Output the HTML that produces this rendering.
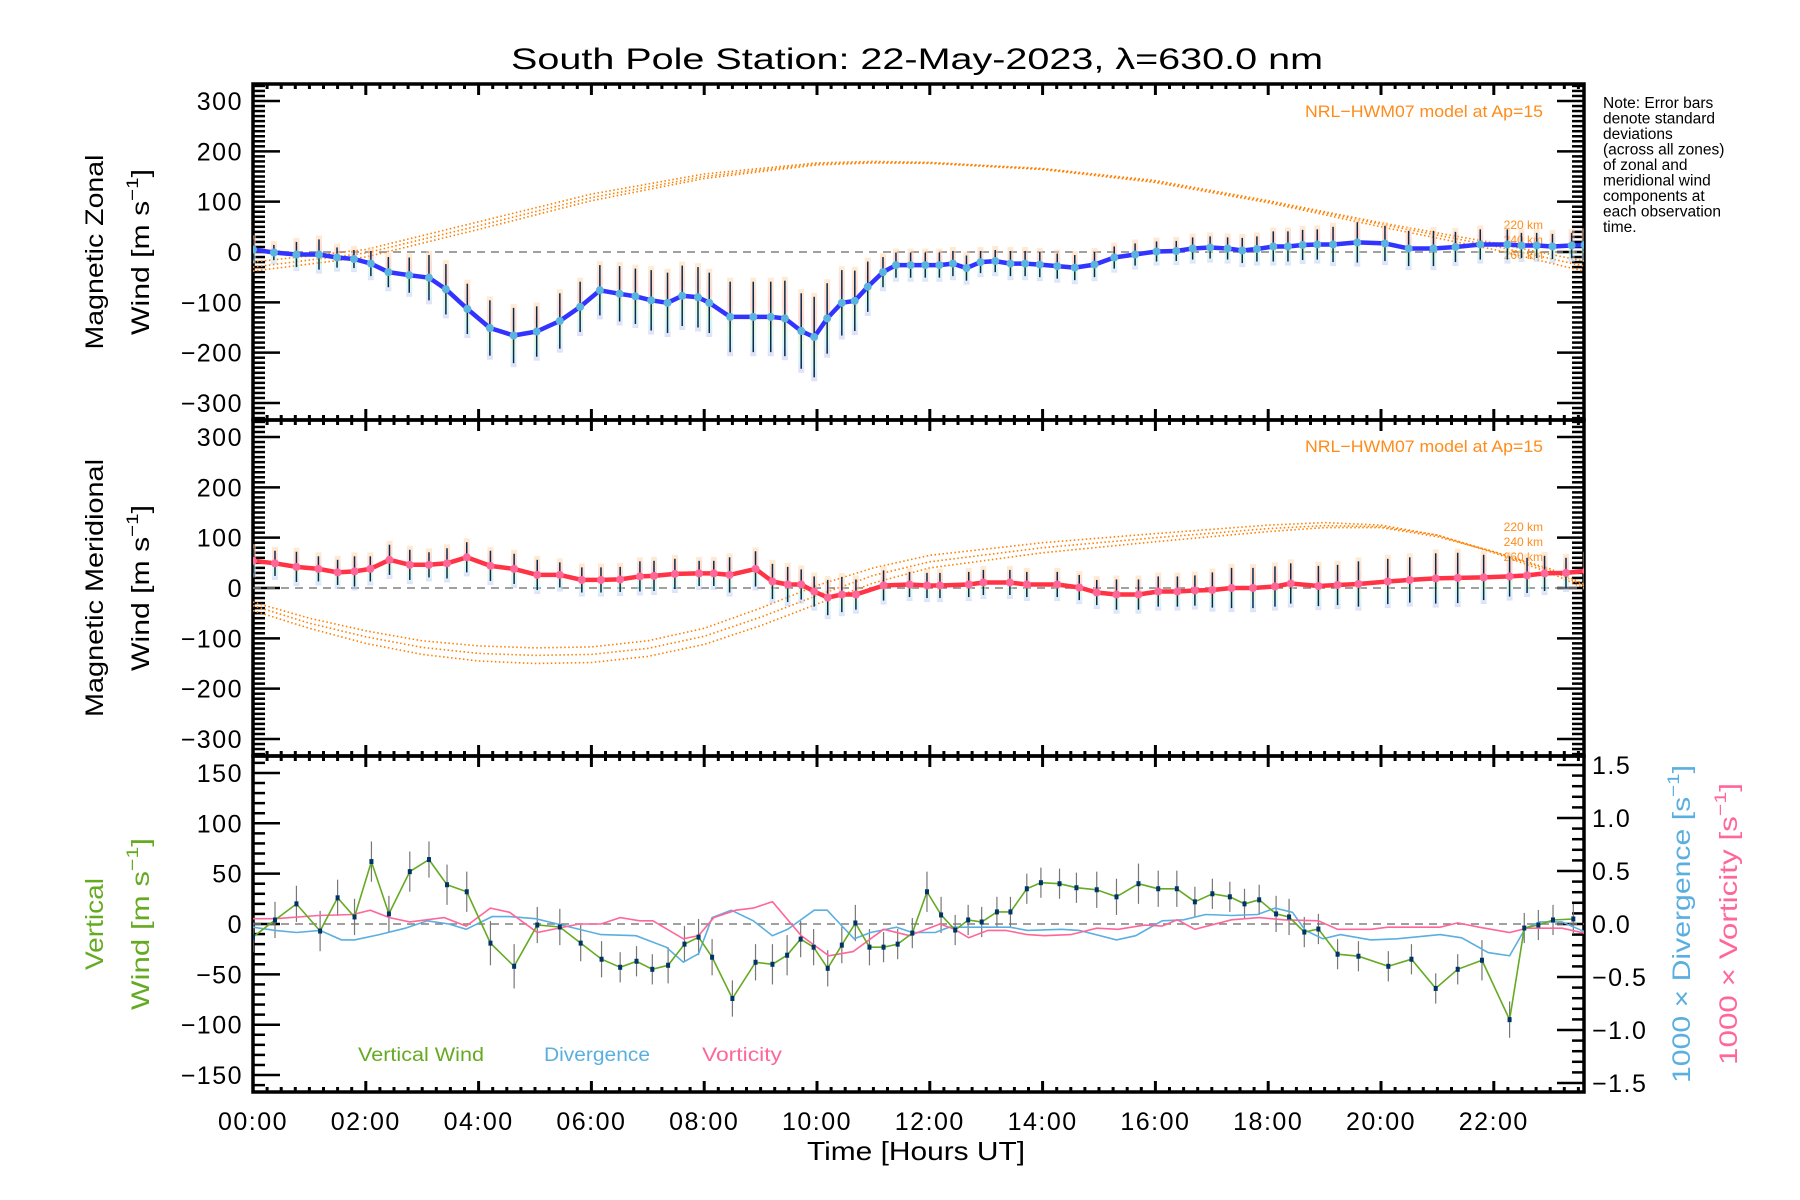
<!DOCTYPE html>
<html><head><meta charset="utf-8"><style>
html,body{margin:0;padding:0;background:#fff}
svg{display:block;font-family:"Liberation Sans",sans-serif}
</style></head><body>
<svg id="chart" width="1800" height="1200" viewBox="0 0 1800 1200" xmlns="http://www.w3.org/2000/svg">
<defs>
<linearGradient id="eg" x1="0" y1="0" x2="0" y2="1">
<stop offset="0" stop-color="#ffd9a8"/><stop offset="0.35" stop-color="#ffb3a8"/><stop offset="0.65" stop-color="#c8f5c8"/><stop offset="0.85" stop-color="#b8e8f5"/><stop offset="1" stop-color="#c0c0f0"/>
</linearGradient>
<clipPath id="c1"><rect x="253" y="84" width="1331" height="336"/></clipPath>
<clipPath id="c2"><rect x="253" y="420" width="1331" height="336"/></clipPath>
<clipPath id="c3"><rect x="253" y="756" width="1331" height="336"/></clipPath>
</defs>
<g id="root"></g>
</svg>
<script>
// ---------- data ----------
const zonalHours = [0,0.37,0.77,1.17,1.49,1.79,2.09,2.40,2.77,3.12,3.42,3.80,4.20,4.62,5.03,5.44,5.80,6.15,6.50,6.78,7.06,7.35,7.61,7.89,8.09,8.46,8.87,9.18,9.43,9.72,9.95,10.18,10.44,10.67,10.90,11.17,11.40,11.66,11.92,12.17,12.41,12.65,12.90,13.16,13.43,13.69,13.95,14.26,14.57,14.92,15.27,15.64,16.02,16.37,16.66,16.97,17.28,17.54,17.80,18.09,18.35,18.61,18.87,19.15,19.58,20.07,20.49,20.93,21.32,21.76,22.24,22.49,22.76,23.04,23.38,23.61];
const zonalWind = [5,-1,-5,-5,-11,-14,-23,-40,-46,-51,-74,-113,-151,-166,-158,-137,-109,-76,-83,-88,-96,-101,-87,-90,-101,-129,-129,-129,-132,-157,-169,-132,-101,-97,-69,-40,-26,-26,-26,-26,-23,-32,-20,-18,-23,-23,-25,-28,-31,-25,-11,-5,1,2,7,9,7,3,6,11,11,14,15,15,19,17,7,7,10,15,15,13,13,11,13,14];
const zonalErr = [20,15,25,30,20,18,25,30,35,45,50,50,55,55,50,55,50,50,55,55,60,60,60,60,60,70,70,70,75,75,80,70,65,60,50,30,25,25,25,25,25,25,22,22,25,25,25,25,25,25,22,22,20,20,22,22,22,25,25,30,30,30,30,35,40,35,35,35,30,30,30,25,25,25,25,25];
const merHours = [0,0.39,0.77,1.16,1.50,1.80,2.08,2.42,2.78,3.12,3.44,3.79,4.21,4.63,5.04,5.44,5.83,6.17,6.51,6.86,7.11,7.48,7.91,8.17,8.45,8.91,9.21,9.48,9.72,9.95,10.19,10.44,10.69,11.18,11.64,11.95,12.18,12.69,12.95,13.42,13.72,14.26,14.65,14.96,15.31,15.70,16.05,16.39,16.70,17.01,17.35,17.73,18.12,18.40,18.89,19.23,19.60,20.12,20.51,20.97,21.36,21.82,22.28,22.59,22.90,23.28,23.64];
const merWind = [54,49,42,38,31,33,38,56,46,46,49,61,44,38,26,26,16,16,17,23,24,28,29,29,26,38,13,7,7,-7,-19,-13,-13,5,7,5,5,7,11,11,7,7,1,-9,-13,-13,-7,-7,-5,-4,0,0,3,9,4,6,8,13,16,19,20,21,23,25,29,30,34];
const merErr = [25,25,30,25,25,30,25,30,30,25,30,30,30,30,30,25,25,25,25,30,30,30,25,25,35,35,35,35,30,30,35,35,30,30,25,25,25,25,25,25,25,25,25,25,30,30,30,30,30,35,40,40,40,40,40,40,45,45,45,50,50,45,40,35,35,30,30];
const modelZHours = [0,2,4,6,8,10,11,12,14,16,18,20,22,23.6];
const model220Z = [-20,5,60,115,155,177,180,178,166,142,102,58,18,-18];
const model240Z = [-30,-2,52,108,150,175,178,177,165,140,100,55,12,-28];
const model260Z = [-38,-10,45,102,146,173,177,176,164,138,98,50,5,-38];
const modelMHours = [0,1,2,3,4,5,6,7,8,9,10,11,12,14,16,18,19,20,21,22,23,23.6];
const model220M = [-28,-60,-85,-105,-115,-119,-117,-105,-80,-40,5,40,65,90,108,125,130,125,105,70,30,0];
const model240M = [-35,-70,-97,-118,-130,-134,-132,-120,-96,-58,-15,25,52,80,100,118,124,122,105,72,35,5];
const model260M = [-45,-80,-110,-132,-145,-150,-148,-136,-112,-75,-32,10,40,70,92,112,120,120,102,72,38,8];
const vertHours = [0,0.39,0.77,1.19,1.50,1.80,2.10,2.41,2.78,3.12,3.44,3.79,4.21,4.63,5.04,5.44,5.81,6.18,6.51,6.80,7.08,7.36,7.65,7.90,8.14,8.50,8.91,9.21,9.47,9.71,9.94,10.19,10.44,10.68,10.93,11.18,11.43,11.69,11.95,12.20,12.45,12.68,12.92,13.19,13.43,13.72,13.97,14.30,14.60,14.96,15.31,15.70,16.05,16.38,16.70,17.01,17.32,17.58,17.84,18.14,18.37,18.64,18.89,19.23,19.60,20.13,20.54,20.97,21.36,21.79,22.28,22.54,22.79,23.05,23.41];
const vertWind = [-13,4,20,-7,26,7,62,10,52,64,39,32,-19,-42,-1,-3,-19,-35,-43,-37,-45,-41,-20,-13,-33,-74,-38,-40,-31,-15,-23,-44,-21,1,-23,-23,-20,-9,32,9,-6,4,2,12,12,35,41,40,36,34,27,40,35,35,22,30,27,20,24,10,7,-8,-5,-30,-32,-42,-35,-64,-45,-36,-95,-4,-1,4,5];
const vertErr = [15,18,18,20,18,18,20,18,20,18,20,20,22,22,18,18,18,18,15,15,15,18,18,18,18,18,18,20,20,18,18,18,18,18,18,15,15,15,20,18,15,15,15,15,15,15,15,15,15,18,18,20,18,18,15,15,15,15,15,18,18,15,15,15,15,15,15,15,15,20,18,15,15,15,15];
const divHours = [0,0.39,0.77,1.19,1.57,1.80,2.24,2.70,3.09,3.47,3.78,4.24,4.55,5.01,5.48,6.17,6.79,7.33,7.63,7.90,8.14,8.48,8.87,9.21,9.48,9.95,10.18,10.41,10.66,10.95,11.41,11.69,12.10,12.34,12.88,13.42,13.73,14.34,14.65,15.31,15.65,16.12,16.50,16.89,17.35,17.81,18.12,18.43,18.66,18.97,19.28,19.82,20.28,21.05,21.43,21.90,22.28,22.56,22.82,23.21,23.64];
const divergence = [-0.03,-0.06,-0.08,-0.06,-0.15,-0.15,-0.10,-0.04,0.03,0,-0.05,0.07,0.07,0.05,-0.01,-0.10,-0.11,-0.22,-0.36,-0.28,0.06,0.13,0.03,-0.11,-0.05,0.13,0.13,0,-0.14,-0.08,-0.03,-0.08,-0.08,-0.03,-0.03,-0.03,-0.06,-0.05,-0.06,-0.15,-0.11,0.03,0.04,0.09,0.08,0.09,0.15,0.11,-0.06,-0.14,-0.10,-0.15,-0.14,-0.10,-0.13,-0.27,-0.30,-0.04,0.02,0.02,-0.08];
const vortHours = [0,0.39,1.16,1.77,2.08,2.42,2.78,3.39,3.78,4.21,4.55,5.04,5.78,6.17,6.51,6.86,7.09,7.63,7.90,8.17,8.56,8.87,9.21,9.72,10.21,10.64,11.18,11.64,12.18,12.44,12.69,13.03,13.34,13.73,14.03,14.50,14.96,15.34,15.81,16.12,16.39,16.70,17.35,17.84,18.27,18.89,19.23,19.82,20.12,20.74,21.05,21.36,21.74,22.28,22.59,23.21,23.64];
const vorticity = [0.05,0.05,0.08,0.09,0.13,0.06,0.02,0.06,-0.02,0.15,0.11,-0.08,0,0,0.06,0.03,0.03,-0.14,-0.11,0.06,0.13,0.15,0.21,-0.11,-0.30,-0.26,-0.05,-0.11,0,-0.05,-0.13,-0.06,-0.06,-0.10,-0.11,-0.10,-0.04,-0.05,-0.01,-0.02,0.04,-0.05,0.04,0.06,0.04,0.03,-0.05,-0.05,-0.03,-0.03,-0.03,0.01,-0.03,-0.08,-0.04,-0.04,-0.09];
const xTickLabels = ["00:00","02:00","04:00","06:00","08:00","10:00","12:00","14:00","16:00","18:00","20:00","22:00"];
const windTicks = [300,200,100,0,-100,-200,-300];
const vertTicks = [150,100,50,0,-50,-100,-150];
const rightTicks = [1.5,1.0,0.5,0.0,-0.5,-1.0,-1.5];

// ---------- axes ----------
const L=253,R=1584;
const X = h => L + h*56.4;
const P = [{top:84,cy:252},{top:420,cy:588},{top:756,cy:924}];
const Yz = v => 252 - v*0.5033;
const Ym = v => 588 - v*0.5033;
const Yv = v => 924 - v*1.007;
const Yr = v => 924 - v*106;

const NS="http://www.w3.org/2000/svg";
const root=document.getElementById('root');
function mk(tag,attrs,parent){const e=document.createElementNS(NS,tag);for(const k in attrs)e.setAttribute(k,attrs[k]);(parent||root).appendChild(e);return e;}
function txt(s,attrs,parent){const e=mk('text',attrs,parent);e.textContent=s;return e;}
const fmt = v => (v<0?"\u2212":"")+Math.abs(v);
const fmt1 = v => (v<0?"\u2212":"")+Math.abs(v).toFixed(1);

let t=txt("South Pole Station: 22-May-2023, \u03bb=630.0 nm",{x:917,y:69,'text-anchor':'middle','font-size':30,textLength:812,lengthAdjust:'spacingAndGlyphs'});



function frame(p,i){
  const g=mk('g',{});
  
  
  const top=p.top,bot=p.top+336;
  for(let m=0;m*0.25<=23.6;m++){
    const x=X(m*0.25), len=(m%8===0)?11:5;
    mk('line',{x1:x,y1:bot,x2:x,y2:bot-len,stroke:'#000','stroke-width':3},g);
    mk('line',{x1:x,y1:top,x2:x,y2:top+len,stroke:'#000','stroke-width':3},g);
  }
  mk('rect',{x:L,y:top,width:R-L,height:336,fill:'none',stroke:'#000','stroke-width':3.5},g);
  return g;
}
P.forEach((p,i)=>frame(p,i));

function windAxis(Yf,name){
  const g=mk('g',{});
  
  
  for(let v=-330;v<=330;v+=10){
    const y=Yf(v), major=(v%100===0), len=major?27:12;
    mk('line',{x1:L,y1:y,x2:L+len,y2:y,stroke:'#000','stroke-width':2.5},g);
    mk('line',{x1:R,y1:y,x2:R-len,y2:y,stroke:'#000','stroke-width':2.5},g);
  }
  windTicks.forEach(v=>{
    const e=txt(fmt(v),{x:243,y:Yf(v)+9,'text-anchor':'end','font-size':25,'letter-spacing':1.5},g);
    
    
  });
  mk('line',{x1:L,y1:Yf(0),x2:R,y2:Yf(0),stroke:'#808080','stroke-width':1.5,'stroke-dasharray':'8,6'},g);
}
windAxis(Yz,'zonal-y-axis');
windAxis(Ym,'meridional-y-axis');

(function(){
  const g=mk('g',{});
  
  
  for(let v=-160;v<=160;v+=10){
    const y=Yv(v), len=(v%50===0)?27:12;
    mk('line',{x1:L,y1:y,x2:L+len,y2:y,stroke:'#000','stroke-width':2.5},g);
  }
  vertTicks.forEach(v=>{
    const e=txt(fmt(v),{x:243,y:Yv(v)+9,'text-anchor':'end','font-size':25,'letter-spacing':1.5},g);
    
    
  });
  for(let k=-15;k<=15;k++){
    const v=k/10,y=Yr(v),len=(k%5===0)?27:12;
    mk('line',{x1:R,y1:y,x2:R-len,y2:y,stroke:'#000','stroke-width':2.5},g);
  }
  rightTicks.forEach(v=>{
    const e=txt(fmt1(v),{x:1592,y:Yr(v)+9,'text-anchor':'start','font-size':25,'letter-spacing':1.5},g);
    
    
  });
  mk('line',{x1:L,y1:Yv(0),x2:R,y2:Yv(0),stroke:'#808080','stroke-width':1.5,'stroke-dasharray':'8,6'},g);
  xTickLabels.forEach((s,i)=>{
    const e=txt(s,{x:X(i*2),y:1130,'text-anchor':'middle','font-size':25,'letter-spacing':1.5});
    
    
  });
})();

function rotLabel(parts,x,cy,len,fill,name){
  const e=mk('text',{x:0,y:0,transform:`translate(${x},${cy}) rotate(-90)`,'text-anchor':'middle','font-size':25,fill:fill,textLength:len,lengthAdjust:'spacingAndGlyphs'});
  
  
  parts.forEach(pp=>{const s=document.createElementNS(NS,'tspan');if(pp[1])s.setAttribute('dy',pp[1]);if(pp[2])s.setAttribute('font-size',pp[2]);s.textContent=pp[0];e.appendChild(s);});
  return e;
}
const windUnit=[["Wind [m s"],["\u22121",-11,17],["]",11]];
rotLabel([["Magnetic Zonal"]],103,252,195,'#000','zonal-axis-title');
rotLabel(windUnit,149,252,166,'#000','zonal-unit-title');
rotLabel([["Magnetic Meridional"]],103,588,258,'#000','meridional-axis-title');
rotLabel(windUnit,149,588,166,'#000','meridional-unit-title');
rotLabel([["Vertical"]],103,924,92,'#66aa22','vertical-axis-title');
rotLabel(windUnit,149,924,172,'#66aa22','vertical-unit-title');
rotLabel([["1000 \u00d7 Divergence [s"],["\u22121",-11,17],["]",11]],1690,924,318,'#5aafe0','divergence-axis-title');
rotLabel([["1000 \u00d7 Vorticity [s"],["\u22121",-11,17],["]",11]],1737,924,282,'#ff6699','vorticity-axis-title');
t=txt("Time [Hours UT]",{x:916,y:1160,'text-anchor':'middle','font-size':26,textLength:218,lengthAdjust:'spacingAndGlyphs'});



const note=["Note: Error bars","denote standard","deviations","(across all zones)","of zonal and","meridional wind","components at","each observation","time."];
note.forEach((s,i)=>{const e=txt(s,{x:1603,y:108+i*15.5,'font-size':15.5});
  
  });

[[117,229],[452,531]].forEach((a,j)=>{
  let e=txt("NRL\u2212HWM07 model at Ap=15",{x:1543,y:a[0],'text-anchor':'end','font-size':17,fill:'#ff8c1a',textLength:238,lengthAdjust:'spacingAndGlyphs'});
  
  
  ["220 km","240 km","260 km"].forEach((s,i)=>{
    const k=txt(s,{x:1543,y:a[1]+i*15,'text-anchor':'end','font-size':12,fill:'#ff8c1a'});
    
    
  });
});

function curve(hs,vs,Yf,clip,name){
  let d='';hs.forEach((h,i)=>{d+=(i?'L':'M')+X(h).toFixed(1)+','+Yf(vs[i]).toFixed(1);});
  const e=mk('path',{d:d,fill:'none',stroke:'#ff8000','stroke-width':1.6,'stroke-dasharray':'1.5,2.5','clip-path':`url(#${clip})`});
  
  
}
curve(modelZHours,model220Z,Yz,'c1','model-zonal-220km');
curve(modelZHours,model240Z,Yz,'c1','model-zonal-240km');
curve(modelZHours,model260Z,Yz,'c1','model-zonal-260km');
curve(modelMHours,model220M,Ym,'c2','model-meridional-220km');
curve(modelMHours,model240M,Ym,'c2','model-meridional-240km');
curve(modelMHours,model260M,Ym,'c2','model-meridional-260km');

function windSeries(hs,vs,es,Yf,clip,col,mcol,name){
  const g=mk('g',{'clip-path':`url(#${clip})`});
  
  
  hs.forEach((h,i)=>{
    const x=X(h),y1=Yf(vs[i]+es[i]),y2=Yf(vs[i]-es[i]);
    const r=mk('rect',{x:x-3,y:y1-4,width:6,height:y2-y1+8,fill:'url(#eg)',opacity:0.5},g);
    
    
  });
  hs.forEach((h,i)=>{
    const x=X(h);
    const l=mk('line',{x1:x,y1:Yf(vs[i]+es[i]),x2:x,y2:Yf(vs[i]-es[i]),stroke:'#0a2a4a','stroke-width':1.5},g);
    
    
  });
  let d='';hs.forEach((h,i)=>{d+=(i?'L':'M')+X(h).toFixed(1)+','+Yf(vs[i]).toFixed(1);});
  const p=mk('path',{d:d,fill:'none',stroke:col,'stroke-width':4.5,'stroke-linejoin':'round'},g);
  
  
  hs.forEach((h,i)=>{
    const c=mk('circle',{cx:X(h),cy:Yf(vs[i]),r:4,fill:mcol},g);
    
    
  });
}
windSeries(zonalHours,zonalWind,zonalErr,Yz,'c1','#3333ff','#5ab4e0','zonal-wind-series');
windSeries(merHours,merWind,merErr,Ym,'c2','#ff3344','#ff6699','meridional-wind-series');

(function(){
  const g=mk('g',{'clip-path':'url(#c3)'});
  
  
  function line(hs,vs,Yf,col,name){
    let d='';hs.forEach((h,i)=>{d+=(i?'L':'M')+X(h).toFixed(1)+','+Yf(vs[i]).toFixed(1);});
    const e=mk('path',{d:d,fill:'none',stroke:col,'stroke-width':1.6},g);
    
    
  }
  vertHours.forEach((h,i)=>{
    const e=mk('line',{x1:X(h),y1:Yv(vertWind[i]+vertErr[i]),x2:X(h),y2:Yv(vertWind[i]-vertErr[i]),stroke:'#777','stroke-width':1.2},g);
    
    
  });
  line(divHours,divergence,Yr,'#5aafe0','divergence-line');
  line(vortHours,vorticity,Yr,'#ff6699','vorticity-line');
  line(vertHours,vertWind,Yv,'#66aa22','vertical-wind-line');
  vertHours.forEach((h,i)=>{
    const e=mk('rect',{x:X(h)-2,y:Yv(vertWind[i])-2.5,width:4,height:5,fill:'#003366'},g);
    
    
  });
})();

[["Vertical Wind",358,126,'#66aa22','legend-vertical-wind'],["Divergence",544,106,'#5aafe0','legend-divergence'],["Vorticity",702,80,'#ff6699','legend-vorticity']].forEach(a=>{
  const e=txt(a[0],{x:a[1],y:1061,'font-size':19,fill:a[3],textLength:a[2],lengthAdjust:'spacingAndGlyphs'});
  
  
});
</script>
</body></html>
